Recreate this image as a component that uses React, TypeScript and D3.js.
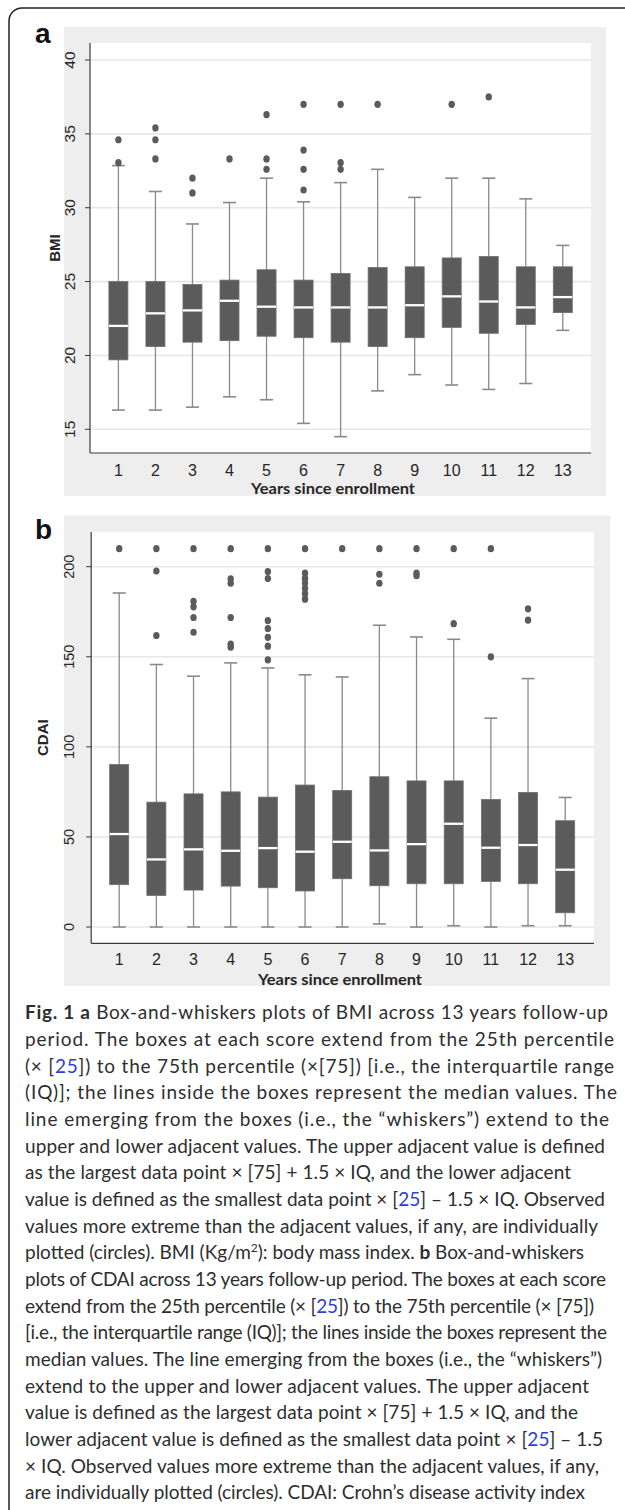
import React from "react";
import * as d3 from "d3";

// ---------- DATA ----------
const years = [1, 2, 3, 4, 5, 6, 7, 8, 9, 10, 11, 12, 13];

// Panel a: BMI
const bmiTicks = [15, 20, 25, 30, 35, 40];
const bmiQ1 = [19.7, 20.6, 20.9, 21.0, 21.3, 21.2, 20.9, 20.6, 21.2, 21.9, 21.5, 22.1, 22.9];
const bmiMedian = [22.0, 22.85, 23.05, 23.7, 23.3, 23.25, 23.25, 23.25, 23.4, 24.0, 23.65, 23.25, 23.95];
const bmiQ3 = [25.0, 25.0, 24.8, 25.1, 25.8, 25.1, 25.55, 25.95, 26.0, 26.6, 26.7, 26.0, 26.0];
const bmiLow = [16.3, 16.3, 16.5, 17.2, 17.0, 15.4, 14.5, 17.6, 18.7, 18.0, 17.7, 18.1, 21.7];
const bmiHigh = [32.85, 31.1, 28.9, 30.35, 32.0, 30.4, 31.7, 32.6, 30.7, 32.0, 32.0, 30.6, 27.45];
const bmiOutliers = [
  [34.6, 33.05],
  [35.4, 34.6, 33.3],
  [32.0, 31.0],
  [33.3],
  [36.3, 33.3, 32.6],
  [37.0, 33.9, 32.6, 31.2],
  [37.0, 33.05, 32.6],
  [37.0],
  [],
  [37.0],
  [37.5],
  [],
  [],
];

// Panel b: CDAI
const cdaiTicks = [0, 50, 100, 150, 200];
const cdaiQ1 = [23.5, 17.5, 20.5, 22.7, 21.8, 20.0, 26.8, 22.9, 24.0, 24.0, 25.3, 24.0, 7.9];
const cdaiMedian = [51.6, 37.5, 43.1, 42.3, 43.8, 41.8, 47.3, 42.5, 46.0, 57.3, 44.0, 45.5, 31.8];
const cdaiQ3 = [90.2, 69.3, 73.9, 75.0, 72.1, 78.8, 75.8, 83.4, 81.1, 81.1, 70.8, 74.7, 59.0];
const cdaiLow = [0, 0, 0, 0, 0, 0, 0, 1.7, 0, 0.7, 0, 0.7, 0.7];
const cdaiHigh = [185.4, 145.7, 139.2, 146.6, 143.8, 140.0, 138.8, 167.5, 161.0, 159.7, 115.9, 137.9, 71.9];
const cdaiOutliers = [
  [210],
  [210, 197.6, 161.8],
  [210, 180.8, 177.7, 171.8, 163.6],
  [210, 193.2, 190.8, 171.8, 157.0, 155.3],
  [210, 197.3, 193.4, 170.1, 165.7, 160.8, 155.9, 148.3],
  [210, 196.5, 193.5, 191.0, 188.0, 185.0, 182.0],
  [210],
  [210, 195.8, 190.8],
  [210, 196.5, 195.0],
  [210, 168.4],
  [210, 150.0],
  [176.6, 170.3],
  [],
];

const xTitle = "Years since enrollment";

type Seg = { t: string; b?: boolean; link?: boolean; sup?: boolean };
const captionLines: Seg[][] = [
  [{ t: "Fig. 1 a", b: true }, { t: " Box-and-whiskers plots of BMI across 13 years follow-up" }],
  [{ t: "period. The boxes at each score extend from the 25th percentile" }],
  [{ t: "(× [" }, { t: "25", link: true }, { t: "]) to the 75th percentile (×[75]) [i.e., the interquartile range" }],
  [{ t: "(IQ)]; the lines inside the boxes represent the median values. The" }],
  [{ t: "line emerging from the boxes (i.e., the “whiskers”) extend to the" }],
  [{ t: "upper and lower adjacent values. The upper adjacent value is defined" }],
  [{ t: "as the largest data point × [75] + 1.5 × IQ, and the lower adjacent" }],
  [{ t: "value is defined as the smallest data point × [" }, { t: "25", link: true }, { t: "] – 1.5 × IQ. Observed" }],
  [{ t: "values more extreme than the adjacent values, if any, are individually" }],
  [{ t: "plotted (circles). BMI (Kg/m" }, { t: "2", sup: true }, { t: "): body mass index. " }, { t: "b", b: true }, { t: " Box-and-whiskers" }],
  [{ t: "plots of CDAI across 13 years follow-up period. The boxes at each score" }],
  [{ t: "extend from the 25th percentile (× [" }, { t: "25", link: true }, { t: "]) to the 75th percentile (× [75])" }],
  [{ t: "[i.e., the interquartile range (IQ)]; the lines inside the boxes represent the" }],
  [{ t: "median values. The line emerging from the boxes (i.e., the “whiskers”)" }],
  [{ t: "extend to the upper and lower adjacent values. The upper adjacent" }],
  [{ t: "value is defined as the largest data point × [75] + 1.5 × IQ, and the" }],
  [{ t: "lower adjacent value is defined as the smallest data point × [" }, { t: "25", link: true }, { t: "] – 1.5" }],
  [{ t: "× IQ. Observed values more extreme than the adjacent values, if any," }],
  [{ t: "are individually plotted (circles). CDAI: Crohn’s disease activity index" }],
];
const captionLineEnds = [608, 614, 614, 617, 609, 605, 571, 605, 598, 584, 606, 594, 607, 602, 589, 578, 603, 599, 585];

// ---------- STYLE ----------
const BOX = "#5b5b5b";
const WHISK = "#8a8a8a";
const GRID = "#e7e7e7";
const BG = "#eeeeee";
const AXIS = "#3a3a3a";
const TXT = "#262626";

type PanelProps = {
  letter: string;
  ylabel: string;
  ticks: number[];
  q1: number[];
  med: number[];
  q3: number[];
  lo: number[];
  hi: number[];
  out: number[][];
  bg: { x: number; y: number; w: number; h: number };
  plot: { x0: number; x1: number; y0: number; y1: number };
  yDom: [number, number];
  yRange: [number, number];
  xRange: [number, number];
  tickLabelX: number;
  tickFont: number;
  ylabelX: number;
  xTickY: number;
  xTitleY: number;
  xTitleX: number;
  letterY: number;
};

function Panel(p: PanelProps) {
  const y = d3.scaleLinear().domain(p.yDom).range(p.yRange);
  const x = d3.scaleLinear().domain([1, 13]).range(p.xRange);
  const bw = 19;
  const cw = 13;
  return (
    <g>
      <rect x={p.bg.x} y={p.bg.y} width={p.bg.w} height={p.bg.h} fill={BG} />
      <rect x={p.plot.x0} y={p.plot.y0} width={p.plot.x1 - p.plot.x0} height={p.plot.y1 - p.plot.y0} fill="#fff" />
      {p.ticks.map((t) => (
        <line key={"g" + t} x1={p.plot.x0} x2={p.plot.x1} y1={y(t)} y2={y(t)} stroke={GRID} strokeWidth={1.6} />
      ))}
      {years.map((yr, i) => {
        const cx = x(yr);
        return (
          <g key={"b" + yr}>
            <line x1={cx} x2={cx} y1={y(p.hi[i])} y2={y(p.q3[i])} stroke={WHISK} strokeWidth={1.3} />
            <line x1={cx} x2={cx} y1={y(p.q1[i])} y2={y(p.lo[i])} stroke={WHISK} strokeWidth={1.3} />
            <line x1={cx - cw / 2} x2={cx + cw / 2} y1={y(p.hi[i])} y2={y(p.hi[i])} stroke={WHISK} strokeWidth={1.6} />
            <line x1={cx - cw / 2} x2={cx + cw / 2} y1={y(p.lo[i])} y2={y(p.lo[i])} stroke={WHISK} strokeWidth={1.6} />
            <rect
              x={cx - bw / 2}
              y={y(p.q3[i])}
              width={bw}
              height={y(p.q1[i]) - y(p.q3[i])}
              fill={BOX}
              stroke="#6e6e6e"
              strokeWidth={0.8}
            />
            <line x1={cx - bw / 2} x2={cx + bw / 2} y1={y(p.med[i])} y2={y(p.med[i])} stroke="#fff" strokeWidth={2.3} />
            {p.out[i].map((v, j) => (
              <ellipse key={j} cx={cx} cy={y(v)} rx={3.2} ry={3.6} fill={BOX} />
            ))}
          </g>
        );
      })}
      {/* axes */}
      <line x1={p.plot.x0} x2={p.plot.x0} y1={p.plot.y0} y2={p.plot.y1} stroke={AXIS} strokeWidth={1.2} />
      <line x1={p.plot.x0} x2={p.plot.x1} y1={p.plot.y1} y2={p.plot.y1} stroke={AXIS} strokeWidth={1.2} />
      {p.ticks.map((t) => (
        <g key={"t" + t}>
          <line x1={p.plot.x0 - 5} x2={p.plot.x0} y1={y(t)} y2={y(t)} stroke={AXIS} strokeWidth={1} />
          <text
            transform={`translate(${p.tickLabelX},${y(t)}) rotate(-90)`}
            textAnchor="middle"
            fontFamily="Liberation Sans, Arial, sans-serif"
            fontSize={p.tickFont}
            fill={TXT}
          >
            {t}
          </text>
        </g>
      ))}
      <text
        transform={`translate(${p.ylabelX},${(p.plot.y0 + p.plot.y1) / 2}) rotate(-90)`}
        textAnchor="middle"
        fontFamily="Liberation Sans, Arial, sans-serif"
        fontWeight="bold"
        fontSize={15}
        fill={TXT}
      >
        {p.ylabel}
      </text>
      {years.map((yr) => (
        <text
          key={"x" + yr}
          x={x(yr)}
          y={p.xTickY}
          textAnchor="middle"
          fontFamily="Liberation Sans, Arial, sans-serif"
          fontSize={16}
          fill={TXT}
        >
          {yr}
        </text>
      ))}
      <text
        x={p.xTitleX}
        y={p.xTitleY}
        textAnchor="middle"
        fontFamily="Lato, 'Open Sans', sans-serif"
        fontWeight="bold"
        fontSize={16}
        textLength={164}
        lengthAdjust="spacingAndGlyphs"
        fill={TXT}
      >
        {xTitle}
      </text>
      <text
        x={35}
        y={p.letterY}
        fontFamily="Liberation Sans, Arial, sans-serif"
        fontWeight="bold"
        fontSize={28}
        fill="#111"
      >
        {p.letter}
      </text>
    </g>
  );
}

export default function App() {
  return (
    <svg
      width={625}
      height={1510}
      style={{ position: "absolute", left: 0, top: 0, background: "#fff" }}
    >
      <rect x={9} y={8} width={700} height={1600} rx={13} fill="none" stroke="#222" strokeWidth={1.5} />
      <Panel
        letter="a"
        ylabel="BMI"
        ticks={bmiTicks}
        q1={bmiQ1}
        med={bmiMedian}
        q3={bmiQ3}
        lo={bmiLow}
        hi={bmiHigh}
        out={bmiOutliers}
        bg={{ x: 64, y: 27, w: 542, h: 469 }}
        plot={{ x0: 90, x1: 591, y0: 43, y1: 453 }}
        yDom={[15, 40]}
        yRange={[429.3, 60]}
        xRange={[118.4, 562.8]}
        tickLabelX={75}
        tickFont={15.5}
        ylabelX={60}
        xTickY={476}
        xTitleY={494}
        xTitleX={333}
        letterY={43}
      />
      <Panel
        letter="b"
        ylabel="CDAI"
        ticks={cdaiTicks}
        q1={cdaiQ1}
        med={cdaiMedian}
        q3={cdaiQ3}
        lo={cdaiLow}
        hi={cdaiHigh}
        out={cdaiOutliers}
        bg={{ x: 64, y: 515.7, w: 546, h: 470.3 }}
        plot={{ x0: 91.2, x1: 594, y0: 532, y1: 943.3 }}
        yDom={[0, 200]}
        yRange={[927, 566.7]}
        xRange={[119.2, 565.2]}
        tickLabelX={74}
        tickFont={14.5}
        ylabelX={48}
        xTickY={965}
        xTitleY={985}
        xTitleX={340}
        letterY={539}
      />
      {captionLines.map((segs, i) => (
        <text
          key={"c" + i}
          x={25}
          y={1019.3 + i * 26.67}
          fontFamily="Lato, 'Noto Sans', sans-serif"
          fontSize={19}
          fill="#2e2e2e"
          textLength={captionLineEnds[i] - 25}
          lengthAdjust="spacing"
        >
          {segs.map((s, j) =>
            s.sup ? (
              <tspan key={j} fontSize={12} dy={-7}>
                {s.t}
              </tspan>
            ) : (
              <tspan
                key={j}
                fontWeight={s.b ? "bold" : undefined}
                fill={s.link ? "#2b3fd6" : undefined}
                dy={j > 0 && segs[j - 1].sup ? 7 : undefined}
              >
                {s.t}
              </tspan>
            )
          )}
        </text>
      ))}
    </svg>
  );
}
